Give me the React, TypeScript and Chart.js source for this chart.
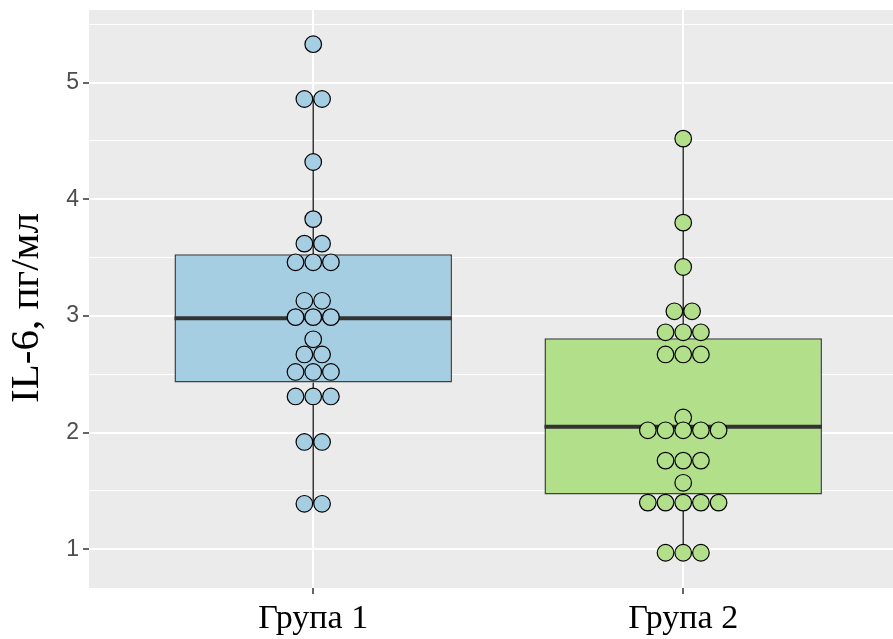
import React, { useEffect, useRef } from "react";
import { Chart, registerables } from "chart.js";

Chart.register(...registerables);

// ---- Data ----
const categories = ["Група 1", "Група 2"];
const categoryPositions = [1, 2];
const yAxisTitle = "IL-6, пг/мл";

const group1Values = [
  5.33, 4.86, 4.86, 4.32, 3.83, 3.62, 3.62, 3.46, 3.46, 3.46, 3.13, 3.13,
  2.99, 2.99, 2.99, 2.8, 2.67, 2.67, 2.52, 2.52, 2.52, 2.31, 2.31, 2.31,
  1.92, 1.92, 1.39, 1.39,
];
const group2Values = [
  4.52, 3.8, 3.42, 3.04, 3.04, 2.86, 2.86, 2.86, 2.67, 2.67, 2.67, 2.13,
  2.02, 2.02, 2.02, 2.02, 2.02, 1.76, 1.76, 1.76, 1.57, 1.4, 1.4, 1.4, 1.4,
  1.4, 0.97, 0.97, 0.97,
];

// box statistics
const boxQ1 = [2.43, 1.47];
const boxMedian = [2.98, 2.05];
const boxQ3 = [3.53, 2.81];
const whiskerLow = [1.39, 0.97];
const whiskerHigh = [4.86, 4.52];

const yTickValues = [1, 2, 3, 4, 5];
const yMinorValues = [1.5, 2.5, 3.5, 4.5, 5.5];

// ---- Styles ----
const fills = ["#A6CEE3", "#B2DF8A"];
const BOX_WIDTH = 0.75;
const DOT_STEP = 0.0478;

function dotPoints(values: number[], center: number) {
  const counts = new Map<number, number>();
  values.forEach((v) => counts.set(v, (counts.get(v) || 0) + 1));
  const pts: { x: number; y: number }[] = [];
  counts.forEach((n, v) => {
    for (let i = 0; i < n; i++) {
      pts.push({ x: center + (i - (n - 1) / 2) * DOT_STEP, y: v });
    }
  });
  return pts;
}

const panelBg = {
  id: "panelBg",
  beforeDraw(chart: any) {
    const { ctx, chartArea } = chart;
    ctx.save();
    ctx.fillStyle = "#EBEBEB";
    ctx.fillRect(chartArea.left, chartArea.top, chartArea.right - chartArea.left, chartArea.bottom - chartArea.top);
    ctx.restore();
  },
};

const yTitle = {
  id: "yTitle",
  afterDraw(chart: any) {
    const { ctx, chartArea } = chart;
    ctx.save();
    ctx.translate(27, (chartArea.top + chartArea.bottom) / 2 + 9);
    ctx.rotate(-Math.PI / 2);
    ctx.fillStyle = "#000000";
    ctx.font = "41px 'Liberation Serif', serif";
    ctx.textAlign = "center";
    ctx.textBaseline = "middle";
    ctx.fillText(yAxisTitle, 0, 0);
    ctx.restore();
  },
};

export default function App() {
  const ref = useRef<HTMLCanvasElement>(null);
  useEffect(() => {
    if (!ref.current) return;
    const allY = [...yTickValues, ...yMinorValues].sort((a, b) => a - b);
    const datasets: any[] = [];
    // boxes
    datasets.push({
      type: "bar",
      data: categoryPositions.map((c, i) => ({ x: c, y: [boxQ1[i], boxQ3[i]] })),
      backgroundColor: fills,
      borderColor: "#404040",
      borderWidth: 1.5,
      borderSkipped: false,
      categoryPercentage: 1,
      barPercentage: BOX_WIDTH,
      order: 4,
    });
    categoryPositions.forEach((c, i) => {
      // whiskers
      datasets.push({
        type: "line",
        data: [
          { x: c, y: boxQ3[i] },
          { x: c, y: whiskerHigh[i] },
        ],
        borderColor: "#333333",
        borderWidth: 1.5,
        pointRadius: 0,
        order: 5,
      });
      datasets.push({
        type: "line",
        data: [
          { x: c, y: boxQ1[i] },
          { x: c, y: whiskerLow[i] },
        ],
        borderColor: "#333333",
        borderWidth: 1.5,
        pointRadius: 0,
        order: 5,
      });
      // median
      datasets.push({
        type: "line",
        data: [
          { x: c - BOX_WIDTH / 2, y: boxMedian[i] },
          { x: c + BOX_WIDTH / 2, y: boxMedian[i] },
        ],
        borderColor: "#333333",
        borderWidth: 4,
        pointRadius: 0,
        order: 2,
      });
    });
    // dots
    [group1Values, group2Values].forEach((vals, i) => {
      datasets.push({
        type: "scatter",
        data: dotPoints(vals, categoryPositions[i]),
        backgroundColor: fills[i],
        borderColor: "#000000",
        borderWidth: 1.2,
        pointRadius: 8.3,
        pointHoverRadius: 8.3,
        order: 0,
      });
    });

    const chart = new Chart(ref.current, {
      type: "scatter",
      data: { datasets },
      plugins: [panelBg, yTitle],
      options: {
        animation: false,
        responsive: true,
        maintainAspectRatio: false,
        layout: { autoPadding: false, padding: { top: 10, right: 0, left: 0, bottom: 0 } },
        plugins: { legend: { display: false }, tooltip: { enabled: false } },
        scales: {
          x: {
            type: "linear",
            min: 0.394,
            max: 2.567,
            offset: false,
            afterFit(scale: any) {
              scale.height = 51;
              scale.paddingLeft = 0;
              scale.paddingRight = 0;
            },
            afterBuildTicks(scale: any) {
              scale.ticks = categoryPositions.map((v) => ({ value: v }));
            },
            ticks: {
              autoSkip: false,
              maxRotation: 0,
              padding: 5,
              color: "#000000",
              font: { family: "'Liberation Serif', serif", size: 34 },
              callback: (v: any) => categories[categoryPositions.indexOf(Number(v))] ?? "",
            },
            grid: {
              offset: false,
              color: "#FFFFFF",
              lineWidth: 2,
              tickLength: 6,
              tickColor: "#333333",
              tickWidth: 1.5,
            },
            border: { display: false },
          },
          y: {
            type: "linear",
            min: 0.668,
            max: 5.623,
            afterFit(scale: any) {
              scale.width = 89;
              scale.paddingTop = 0;
              scale.paddingBottom = 0;
            },
            afterBuildTicks(scale: any) {
              scale.ticks = allY.map((v) => ({ value: v }));
            },
            ticks: {
              autoSkip: false,
              padding: 4,
              color: "#4D4D4D",
              font: { family: "'Liberation Sans', Arial, sans-serif", size: 23 },
              callback: (v: any) => (yTickValues.includes(Number(v)) ? String(v) : ""),
            },
            grid: {
              color: "#FFFFFF",
              lineWidth: (ctx: any) => (yTickValues.includes(ctx.tick?.value) ? 2 : 1),
              tickLength: 6,
              tickColor: (ctx: any) => (yTickValues.includes(ctx.tick?.value) ? "#333333" : "rgba(0,0,0,0)"),
              tickWidth: 1.5,
            },
            border: { display: false },
          },
        },
      },
    });
    return () => chart.destroy();
  }, []);
  return (
    <div style={{ position: "fixed", left: 0, top: 0, width: 893, height: 639 }}>
      <canvas ref={ref} />
    </div>
  );
}
